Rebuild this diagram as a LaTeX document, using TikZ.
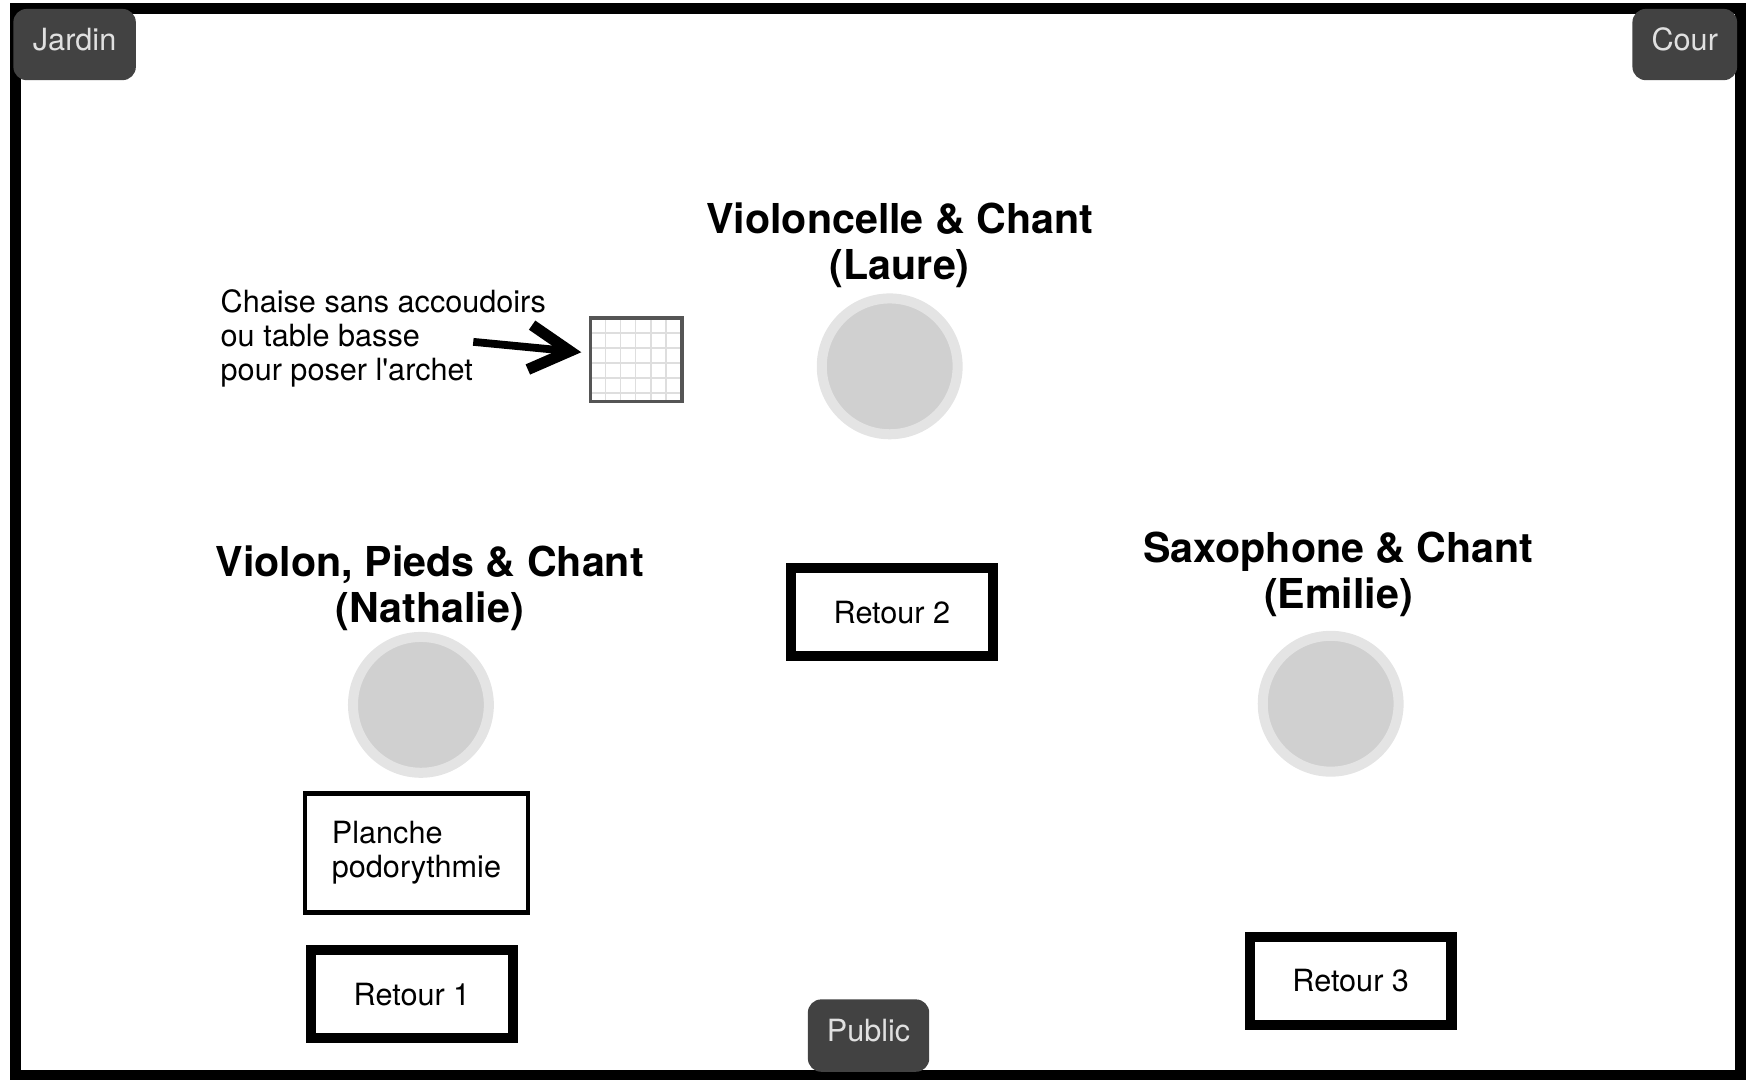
\documentclass[tikz,border=0pt]{standalone}
\usepackage{fontspec}
\setmainfont{TeX Gyre Heros}
\usetikzlibrary{arrows.meta, positioning}
\definecolor{tagdark}{RGB}{66, 66, 66}
\definecolor{seatgray}{RGB}{208, 208, 208}
\definecolor{ringgray}{RGB}{228, 228, 228}
\definecolor{chairedge}{RGB}{85, 85, 85}
\definecolor{chairline}{RGB}{222, 222, 222}

\begin{document}
\begin{tikzpicture}[x=1pt, y=-1pt,
  tag/.style={fill=tagdark, text=white!88!black, rounded corners=12pt, inner sep=0pt, text depth=9pt, font=\fontsize{27.5}{30.5}\selectfont},
  seat/.style={circle, fill=seatgray, draw=ringgray, line width=9pt, minimum size=122pt, inner sep=0pt},
  role/.style={align=center, inner sep=0pt, font=\fontsize{37}{41}\selectfont\bfseries},
  retour/.style={draw, line width=9pt, minimum width=181pt, minimum height=79pt, inner sep=0pt, font=\fontsize{27.5}{30.5}\selectfont},
  note/.style={align=left, inner sep=0pt, font=\fontsize{27.5}{30.5}\selectfont}]
  \useasboundingbox (0,0) rectangle (1568,969);
  % cadre de la scene
  \draw[line width=10pt] (14,8) rectangle (1563,966);
  \node[tag, minimum width=110pt, minimum height=64pt] (jardin) at (67,40) {Jardin};
  \node[tag, minimum width=94pt, minimum height=64pt] (cour) at (1513,40) {Cour};
  \node[tag, minimum width=109pt, minimum height=65pt] (public) at (780,930) {Public};
  % musiciennes
  \node[seat] (laure) at (799,329) {};
  \node[seat] (nathalie) at (378,633) {};
  \node[seat] (emilie) at (1195,632) {};
  \node[role] (laurerole) at (808,220) {Violoncelle \& Chant\\(Laure)};
  \node[role] (nathalierole) at (386,528) {Violon, Pieds \& Chant\\(Nathalie)};
  \node[role] (emilierole) at (1202,516) {Saxophone \& Chant\\(Emilie)};
  % retours
  \node[retour] (retour2) at (801,550) {Retour 2};
  \node[retour] (retour1) at (370,893) {Retour 1};
  \node[retour] (retour3) at (1213,881) {Retour 3};
  \node[note, draw, line width=4pt, minimum width=200pt, minimum height=107pt] (planche) at (374,766) {Planche\\podorythmie};
  % chaise pour l'archet
  \foreach \gx in {544,557.5,571,584.5,598}
    \draw[chairline, line width=1.2pt] (\gx,286) -- (\gx,360);
  \foreach \gy in {299,312.5,326,339.5,353}
    \draw[chairline, line width=1.2pt] (531,\gy) -- (612,\gy);
  \node[draw=chairedge, line width=3pt, minimum width=82pt, minimum height=75pt, inner sep=0pt] (chaise) at (571.5,323) {};
  \node[note, anchor=west] (chaisenote) at (198,304) {Chaise sans accoudoirs\\ou table basse\\pour poser l\textquotesingle archet};
  \coordinate (archetpoint) at (425,307);
  \draw[line width=7pt, -{Straight Barb[length=36pt, width=40pt, line width=10pt]}, shorten >=7pt] (archetpoint) -- ([yshift=6pt]chaise.west);
\end{tikzpicture}
\end{document}
